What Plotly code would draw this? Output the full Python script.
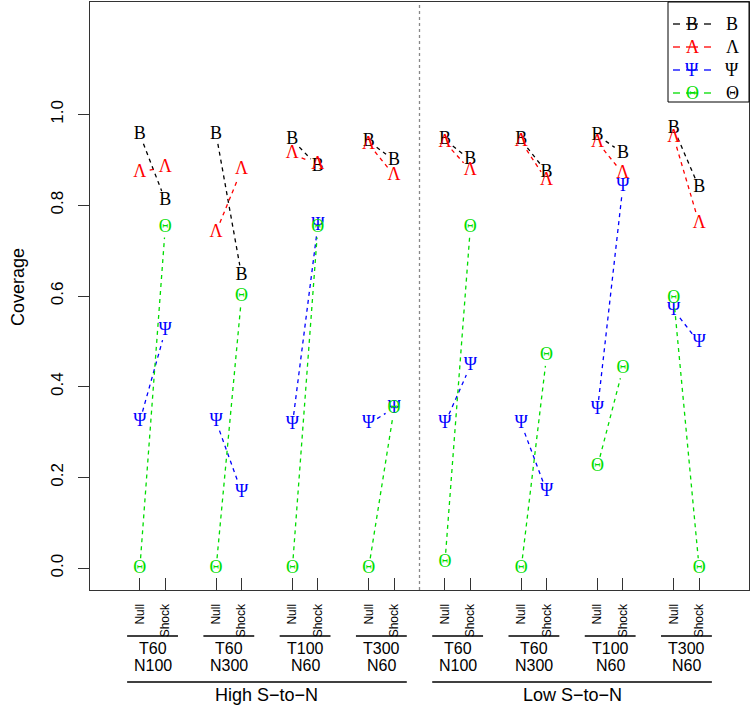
import math
import plotly.graph_objects as go

# ---------------- data ----------------
regimes = ["High S\u2212to\u2212N", "Low S\u2212to\u2212N"]
group_top = ["T60", "T60", "T100", "T300", "T60", "T60", "T100", "T300"]
group_bottom = ["N100", "N300", "N60", "N60", "N100", "N300", "N60", "N60"]
conditions = ["Null", "Shock"]

series_names = ["B", "\u039b", "\u03a8", "\u0398"]
series_colors = ["#000000", "#ff0000", "#0000ff", "#00dd00"]

B_null  = [0.956, 0.957, 0.944, 0.941, 0.944, 0.944, 0.954, 0.969]
B_shock = [0.811, 0.646, 0.886, 0.899, 0.900, 0.873, 0.915, 0.839]
L_null  = [0.873, 0.741, 0.913, 0.935, 0.939, 0.940, 0.939, 0.950]
L_shock = [0.884, 0.878, 0.890, 0.866, 0.877, 0.855, 0.870, 0.760]
P_null  = [0.324, 0.324, 0.316, 0.318, 0.319, 0.319, 0.349, 0.569]
P_shock = [0.524, 0.168, 0.755, 0.353, 0.446, 0.169, 0.842, 0.497]
T_null  = [0.000, 0.000, 0.000, 0.000, 0.012, 0.000, 0.224, 0.595]
T_shock = [0.751, 0.598, 0.751, 0.351, 0.751, 0.468, 0.440, 0.000]

y_ticks = [0.0, 0.2, 0.4, 0.6, 0.8, 1.0]

series_values = [(B_null, B_shock), (L_null, L_shock), (P_null, P_shock), (T_null, T_shock)]

# ---------------- layout constants ----------------
W, H = 750, 705
ML, MR, MT, MB = 90, 1, 2, 115
PW, PH = W - ML - MR, H - MT - MB
XR = [-0.96, 24.96]
YR = [-0.048, 1.248]
px_x = PW / (XR[1] - XR[0])
px_y = PH / (YR[1] - YR[0])
GAP = 10  # px gap around points (type="b")

n_groups = len(group_top)
x_null = [1 + 3 * i for i in range(n_groups)]
x_shock = [2 + 3 * i for i in range(n_groups)]

def py(Y):
    """pixel row -> paper y"""
    return (MT + PH - Y) / PH

def pxp(X):
    return (X - ML) / PW

fig = go.Figure()

serif = "Liberation Serif, Times New Roman, serif"
sans = "Liberation Sans, Arial, Helvetica, sans-serif"

for name, color, (vn, vs) in zip(series_names, series_colors, series_values):
    lx, ly = [], []
    for i in range(n_groups):
        x0, y0, x1, y1 = x_null[i], vn[i], x_shock[i], vs[i]
        dxp, dyp = (x1 - x0) * px_x, (y1 - y0) * px_y
        L = math.hypot(dxp, dyp)
        if L > 2 * GAP:
            t = GAP / L
            lx += [x0 + t * (x1 - x0), x1 - t * (x1 - x0), None]
            ly += [y0 + t * (y1 - y0), y1 - t * (y1 - y0), None]
    fig.add_trace(go.Scatter(x=lx, y=ly, mode="lines",
                             line=dict(color=color, width=1.3, dash="4px,4px"),
                             hoverinfo="skip", showlegend=False))
    xs, ys = [], []
    for i in range(n_groups):
        xs += [x_null[i], x_shock[i]]
        ys += [vn[i], vs[i]]
    fig.add_trace(go.Scatter(x=xs, y=ys, mode="text", text=[name] * len(xs),
                             textposition="middle center",
                             textfont=dict(family=serif, size=18, color=color),
                             name=name, showlegend=False))

shapes = []
annotations = []

# vertical dotted separator
shapes.append(dict(type="line", xref="x", yref="paper", x0=12, x1=12, y0=0, y1=1,
                   line=dict(color="#888888", width=1.3, dash="dot")))

# group underlines and labels
for i in range(n_groups):
    c = 1.5 + 3 * i
    shapes.append(dict(type="line", xref="x", yref="paper", x0=c - 1, x1=c + 1,
                       y0=py(636), y1=py(636), line=dict(color="#000", width=1.5)))
    annotations.append(dict(x=c, xref="x", y=py(648), yref="paper", text=group_top[i],
                            showarrow=False, xanchor="center", yanchor="middle",
                            font=dict(family=sans, size=16, color="#000")))
    annotations.append(dict(x=c, xref="x", y=py(665), yref="paper", text=group_bottom[i],
                            showarrow=False, xanchor="center", yanchor="middle",
                            font=dict(family=sans, size=16, color="#000")))

for j, reg in enumerate(regimes):
    x0 = 0.5 + 12 * j
    x1 = 11.5 + 12 * j
    shapes.append(dict(type="line", xref="x", yref="paper", x0=x0, x1=x1,
                       y0=py(682), y1=py(682), line=dict(color="#000", width=1.5)))
    annotations.append(dict(x=(x0 + x1) / 2, xref="x", y=py(695), yref="paper", text=reg,
                            showarrow=False, xanchor="center", yanchor="middle",
                            font=dict(family=sans, size=18, color="#000")))

# y-axis title
annotations.append(dict(x=pxp(18), xref="paper", y=py(287), yref="paper", text="Coverage",
                        textangle=-90, showarrow=False, xanchor="center", yanchor="middle",
                        font=dict(family=sans, size=18, color="#000")))

# custom legend
shapes.append(dict(type="rect", xref="paper", yref="paper", x0=pxp(668), x1=1.0,
                   y0=py(102), y1=1.0, line=dict(color="#000", width=1), fillcolor="white",
                   layer="above"))
leg_y = [24, 47, 70, 93]
for name, color, Y in zip(series_names, series_colors, leg_y):
    for a, b in [(673, 680), (686, 698), (704, 711)]:
        shapes.append(dict(type="line", xref="paper", yref="paper", x0=pxp(a), x1=pxp(b),
                           y0=py(Y), y1=py(Y), line=dict(color=color, width=1.3),
                           layer="above"))
    annotations.append(dict(x=pxp(692), xref="paper", y=py(Y), yref="paper", text=name,
                            showarrow=False, xanchor="center", yanchor="middle",
                            font=dict(family=serif, size=18, color=color)))
    annotations.append(dict(x=pxp(732), xref="paper", y=py(Y), yref="paper", text=name,
                            showarrow=False, xanchor="center", yanchor="middle",
                            font=dict(family=serif, size=18, color="#000")))

tickvals_x, ticktext_x = [], []
for i in range(n_groups):
    tickvals_x += [x_null[i], x_shock[i]]
    ticktext_x += conditions

fig.update_layout(
    width=W, height=H,
    margin=dict(l=ML, r=MR, t=MT, b=MB, pad=0),
    paper_bgcolor="white", plot_bgcolor="white",
    showlegend=False,
    shapes=shapes, annotations=annotations,
    xaxis=dict(range=XR, tickvals=tickvals_x, ticktext=ticktext_x, tickangle=-90,
               ticks="inside", ticklen=12, tickwidth=1.3, tickcolor="#333",
               showline=True, linecolor="#333", linewidth=1.3, mirror=True,
               showgrid=False, zeroline=False, ticklabelstandoff=8,
               tickfont=dict(family=sans, size=12, color="#000")),
    yaxis=dict(range=YR, tickvals=y_ticks, ticktext=[f"{v:.1f}" for v in y_ticks],
               tickangle=-90, ticks="outside", ticklen=11, tickwidth=1.3, tickcolor="#333",
               showline=True, linecolor="#333", linewidth=1.3, mirror=True,
               showgrid=False, zeroline=False, ticklabelstandoff=8,
               tickfont=dict(family=sans, size=17, color="#000")),
)

fig.write_html("out.html", config={"displayModeBar": False},
               post_script="document.body.style.margin='0';")
